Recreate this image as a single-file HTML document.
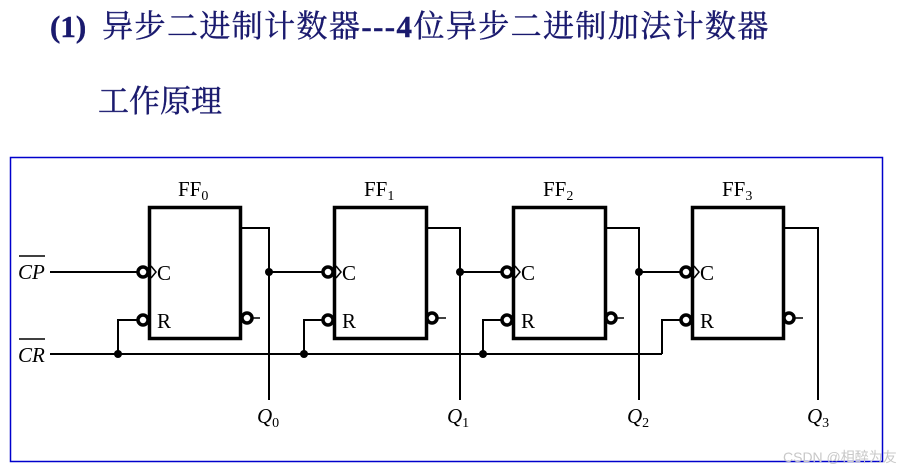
<!DOCTYPE html>
<html><head><meta charset="utf-8"><style>
body{margin:0;background:#fff;width:923px;height:471px;overflow:hidden;position:relative}
.t{position:absolute;color:#1a1a6e;font-family:"Liberation Serif","Noto Serif CJK SC",serif;font-size:31px;white-space:nowrap;-webkit-text-stroke:0.4px #1a1a6e}
</style></head><body>
<div class="t" style="left:50px;top:1px"><b>(1)</b><span style="letter-spacing:1.4px;margin-left:16px">异步二进制计数器<b>---4</b>位异步二进制加法计数器</span></div>
<div class="t" style="left:98px;top:76px">工作原理</div>
<svg width="923" height="471" style="position:absolute;left:0;top:0" font-family="Liberation Serif,serif">
<rect x="10.5" y="157.5" width="872" height="304" fill="none" stroke="#0000cc" stroke-width="1.5"/>
<g stroke="#000" fill="none" stroke-width="2">
<line x1="50" y1="272" x2="137" y2="272"/>
<line x1="50" y1="354" x2="662" y2="354"/>
<polyline points="662,354 662,320 681,320"/>
</g>
<g fill="#000">
<circle cx="118" cy="354" r="4"/><circle cx="304" cy="354" r="4"/><circle cx="483" cy="354" r="4"/>
<circle cx="269" cy="272" r="4"/><circle cx="460" cy="272" r="4"/><circle cx="639" cy="272" r="4"/>
</g>
<g stroke="#000" fill="none" stroke-width="2">
<polyline points="118,354 118,320 137,320"/>
<polyline points="304,354 304,320 322,320"/>
<polyline points="483,354 483,320 502,320"/>
<polyline points="241,228 269,228 269,400"/>
<polyline points="427,228 460,228 460,400"/>
<polyline points="606,228 639,228 639,400"/>
<polyline points="784,228 818,228 818,400"/>
<line x1="269" y1="272" x2="322" y2="272"/>
<line x1="460" y1="272" x2="502" y2="272"/>
<line x1="639" y1="272" x2="681" y2="272"/>
</g>
<g stroke="#000" fill="#fff" stroke-width="3.5">
<rect x="149.5" y="207.5" width="91" height="131"/>
<rect x="334.5" y="207.5" width="92" height="131"/>
<rect x="513.5" y="207.5" width="92" height="131"/>
<rect x="692.5" y="207.5" width="91" height="131"/>
</g>
<g stroke="#000" fill="#fff" stroke-width="3.5">
<circle cx="143" cy="272" r="5"/><circle cx="143" cy="320" r="5"/><circle cx="247" cy="318" r="5"/>
<circle cx="328" cy="272" r="5"/><circle cx="328" cy="320" r="5"/><circle cx="432" cy="318" r="5"/>
<circle cx="507" cy="272" r="5"/><circle cx="507" cy="320" r="5"/><circle cx="611" cy="318" r="5"/>
<circle cx="686" cy="272" r="5"/><circle cx="686" cy="320" r="5"/><circle cx="789" cy="318" r="5"/>
</g>
<g stroke="#000" fill="none" stroke-width="1.5">
<polyline points="151,266 156,272 151,278"/>
<polyline points="336,266 341,272 336,278"/>
<polyline points="515,266 520,272 515,278"/>
<polyline points="694,266 699,272 694,278"/>
<line x1="252" y1="318" x2="260" y2="318"/>
<line x1="437" y1="318" x2="446" y2="318"/>
<line x1="616" y1="318" x2="624" y2="318"/>
<line x1="794" y1="318" x2="803" y2="318"/>
</g>
<g font-size="21" fill="#000">
<text x="157" y="280">C</text><text x="157" y="328">R</text>
<text x="342" y="280">C</text><text x="342" y="328">R</text>
<text x="521" y="280">C</text><text x="521" y="328">R</text>
<text x="700" y="280">C</text><text x="700" y="328">R</text>
<text x="178" y="196">FF<tspan font-size="14" dy="4">0</tspan></text>
<text x="364" y="196">FF<tspan font-size="14" dy="4">1</tspan></text>
<text x="543" y="196">FF<tspan font-size="14" dy="4">2</tspan></text>
<text x="722" y="196">FF<tspan font-size="14" dy="4">3</tspan></text>
<g font-style="italic">
<text x="257" y="423">Q<tspan font-size="14" font-style="normal" dy="4">0</tspan></text>
<text x="447" y="423">Q<tspan font-size="14" font-style="normal" dy="4">1</tspan></text>
<text x="627" y="423">Q<tspan font-size="14" font-style="normal" dy="4">2</tspan></text>
<text x="807" y="423">Q<tspan font-size="14" font-style="normal" dy="4">3</tspan></text>
<text x="18" y="279">CP</text>
<text x="18" y="362">CR</text>
</g>
</g>
<line x1="19" y1="256" x2="45" y2="256" stroke="#000" stroke-width="1.5"/>
<line x1="19" y1="339" x2="45" y2="339" stroke="#000" stroke-width="1.5"/>
<text x="783" y="462" font-family="Liberation Sans,Noto Sans CJK SC,sans-serif" font-size="14" fill="#c8c8c8">CSDN @相醉为友</text>
</svg>
</body></html>
